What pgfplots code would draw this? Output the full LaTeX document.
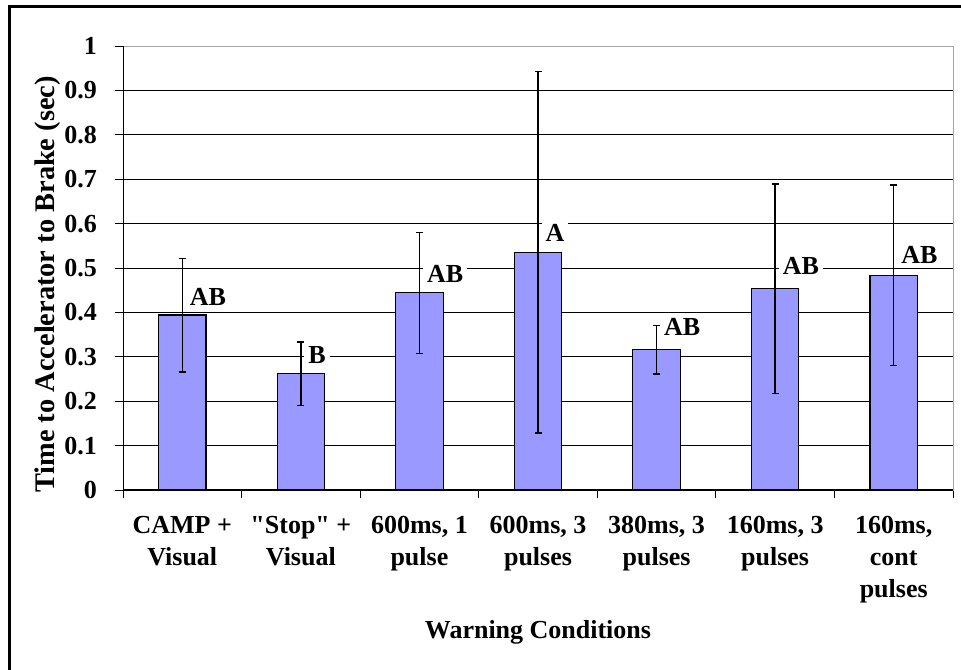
\documentclass[border=0pt]{standalone}
\usepackage{fontspec}
\setmainfont{Liberation Serif}
\newfontfamily\qfont{Liberation Serif}
\usepackage{pgfplots}
\pgfplotsset{compat=1.18}
\definecolor{barblue}{RGB}{153,153,255}

\pgfplotstableread{
x   y      err    lbl  dy
0   0.394  0.128  AB   3.5
1   0.262  0.071  B    4
2   0.444  0.136  AB   3.7
3   0.535  0.407  A    4
4   0.316  0.055  AB   6
5   0.453  0.236  AB   6
6   0.484  0.203  AB   4.5
}\warndata

\newcommand{\lblfont}{\bfseries\fontsize{13}{16}\selectfont}
\newcommand{\q}{{\qfont"}}

\begin{document}
\begin{tikzpicture}
\begin{axis}[
    scale only axis,
    width=415pt, height=222pt,
    xmin=-0.5, xmax=6.5,
    ymin=0, ymax=1,
    ybar,
    bar width=0.4,
    xtick={-0.5,0.5,...,6.5},
    xticklabels={},
    extra x ticks={0,...,6},
    extra x tick labels={{CAMP +\\Visual},{\q Stop\q{} +\\Visual},{600ms, 1\\pulse},{600ms, 3\\pulses},{380ms, 3\\pulses},{160ms, 3\\pulses},{160ms,\\cont\\pulses}},
    extra x tick style={major tick length=0pt, grid=none},
    xtick pos=bottom,
    ytick pos=left,
    ytick={0,0.1,0.2,0.3,0.4,0.5,0.6,0.7,0.8,0.9,1},
    yticklabels={0,0.1,0.2,0.3,0.4,0.5,0.6,0.7,0.8,0.9,1},
    tick align=outside,
    major tick length=4pt,
    tick style={black, line width=0.5pt},
    ymajorgrids,
    grid style={black, line width=0.5pt},
    axis line style={draw=gray!70, line width=0.5pt},
    xticklabel style={font=\lblfont, align=center, anchor=north, yshift=-9.5pt},
    yticklabel style={font=\lblfont, xshift=-5.5pt},
    xlabel={Warning Conditions},
    ylabel={Time to Accelerator to Brake (sec)},
    xlabel style={font=\lblfont, at={(axis description cs:0.5,0)}, anchor=center, yshift=-71pt},
    ylabel style={font=\bfseries\fontsize{14.2}{16}\selectfont, at={(axis description cs:-0.0904,0.463)}, anchor=center},
    point meta=explicit symbolic,
    visualization depends on={\thisrow{dy} \as \labdy},
    nodes near coords,
    every node near coord/.style={font=\lblfont, anchor=south west, xshift=1.5pt, yshift=\labdy*1pt,
        fill=white, inner xsep=2pt, inner ysep=1pt, text=black},
]
\addplot[fill=barblue, draw=black, line width=0.6pt,
    error bars/.cd, y dir=both, y explicit,
    error bar style={black, line width=0.7pt},
    error mark options={black, line width=0.7pt, mark size=1.75pt, rotate=90}]
    table[x=x, y=y, y error=err, meta=lbl] {\warndata};
\draw[black, line width=0.6pt] (axis description cs:0,1) -- (axis description cs:0,0) -- (axis description cs:1,0);
\end{axis}
\draw[black, line width=1.5pt] (-56.75pt,-100pt) -- (-56.75pt,241.5pt) -- (440pt,241.5pt);
\pgfresetboundingbox
\path[use as bounding box] (-61.5pt,-89.5pt) rectangle (419pt,245pt);
\end{tikzpicture}
\end{document}
